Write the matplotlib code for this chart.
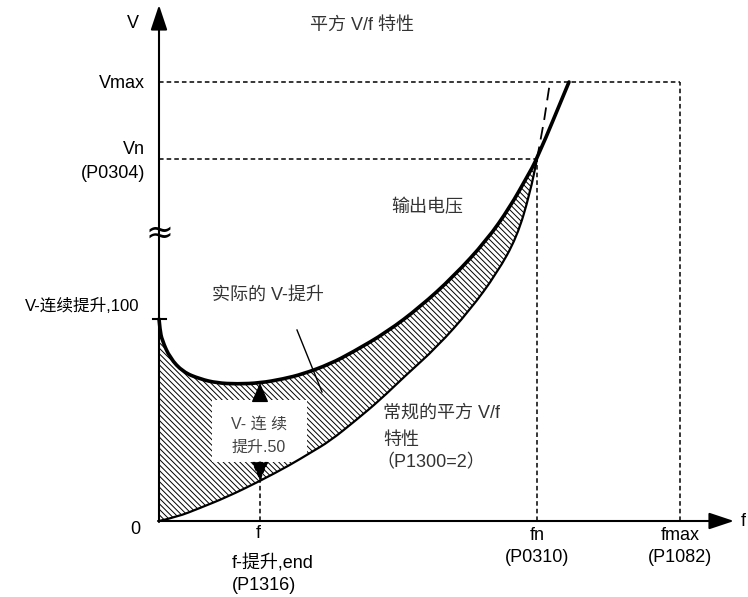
import numpy as np
import matplotlib.pyplot as plt
from matplotlib.patches import PathPatch, Rectangle
from matplotlib.path import Path

plt.rcParams['font.family'] = ['Liberation Sans', 'Noto Sans CJK SC', 'DejaVu Sans']
plt.rcParams['hatch.linewidth'] = 0.7

# ---------------- data (arbitrary units) ----------------
f_boost_end = 101
f_n = 378
f_max = 521
V_boost100 = 202
V_n = 362
V_max = 439

# normal square-law V/f characteristic (P1300=2)
f_sq = [0, 18, 41, 68, 101, 131, 151, 171, 196, 221, 246, 278, 311, 338, 358, 371, 378]
V_sq = [0, 4, 13, 24, 40, 56, 68, 80, 100, 121, 145, 174, 211, 248, 284, 328, 362]
# extension of the square-law curve above Vn (dashed)
f_sq_ext = [378, 385, 391]
V_sq_ext = [362, 400, 439]

# actual output voltage with continuous boost
f_out = [0, 1, 3, 11, 24, 41, 58, 78, 101, 124, 144, 171, 194, 228, 261, 294, 328, 351, 368, 378, 410]
V_out = [202, 191, 181, 163, 149, 142, 138, 137, 138, 142, 147, 157, 169, 189, 214, 244, 281, 314, 344, 362, 439]


def smooth_path(xs, ys):
    """quadratic bezier path through the midpoints of the read points"""
    pts = np.column_stack([xs, ys]).astype(float)
    verts = [pts[0]]
    codes = [Path.MOVETO]
    for i in range(1, len(pts) - 1):
        verts += [pts[i], (pts[i] + pts[i + 1]) / 2]
        codes += [Path.CURVE3, Path.CURVE3]
    verts.append(pts[-1])
    codes.append(Path.LINETO)
    return Path(verts, codes)


# ---------------------- figure --------------------------
fig = plt.figure(figsize=(7.48, 5.97), dpi=100)
ax = fig.add_axes([0, 0, 1, 1])
ax.set_xlim(-159, 589)
ax.set_ylim(-76, 521)
ax.axis('off')

# hatched boost area between the two curves
n_out = f_out.index(f_n) + 1
up = smooth_path(f_out[:n_out], V_out[:n_out])
lo = smooth_path(f_sq[::-1], V_sq[::-1])
area = Path(np.concatenate([up.vertices, lo.vertices, [up.vertices[0]]]),
            np.concatenate([up.codes, [Path.LINETO], lo.codes[1:], [Path.CLOSEPOLY]]))
ax.add_patch(PathPatch(area, facecolor='white', edgecolor='black', hatch='\\\\\\\\\\\\',
                       lw=0, zorder=1))

# reference dashed lines
dash = dict(color='black', lw=1.1, ls=(0, (3, 2)), zorder=2)
ax.plot([0, f_max], [V_max, V_max], **dash)
ax.plot([f_max, f_max], [0, V_max], **dash)
ax.plot([0, f_n], [V_n, V_n], **dash)
ax.plot([f_n, f_n], [0, V_n], **dash)
ax.plot([f_boost_end, f_boost_end], [0, V_sq[4]], **dash)

# curves
ax.add_patch(PathPatch(smooth_path(f_sq, V_sq), fill=False, color='black', lw=1.6, zorder=4))
ax.plot(f_sq_ext, V_sq_ext, color='black', lw=1.3, ls=(0, (7, 4)), zorder=4)
ax.add_patch(PathPatch(smooth_path(f_out, V_out), fill=False, color='black', lw=2.6,
                       zorder=5, capstyle='round', joinstyle='round'))

# axes with arrow heads
arr = dict(arrowstyle='-|>,head_length=0.9,head_width=0.3', color='black', lw=1.5,
           shrinkA=0, shrinkB=0, mutation_scale=17)
ax.annotate('', xy=(0, 516), xytext=(0, -1), arrowprops=arr, zorder=6)
ax.annotate('', xy=(575, 0), xytext=(-1, 0), arrowprops=arr, zorder=6)

# tick at V-boost 100 and axis break
ax.plot([-6, 7], [V_boost100, V_boost100], color='black', lw=1.5, zorder=6)
ax.text(0, 288, '≈', fontsize=24, ha='center', va='center', family='DejaVu Sans', zorder=7)

# boost box and arrows
ax.add_patch(Rectangle((53, 59), 95, 62, facecolor='white', edgecolor='none', zorder=3))
sarr = dict(arrowstyle='-|>,head_length=0.8,head_width=0.35', color='black', lw=1.0,
            shrinkA=0, shrinkB=0, mutation_scale=15)
ax.annotate('', xy=(f_boost_end, V_out[8]), xytext=(f_boost_end, 121), arrowprops=sarr, zorder=6)
ax.annotate('', xy=(f_boost_end, V_sq[4]), xytext=(f_boost_end, 59),
            arrowprops=dict(sarr, linestyle=(0, (3, 2))), zorder=6)
ax.text(100, 97, 'V- 连 续', fontsize=11.5, ha='center', va='center', color='#444', zorder=7)
ax.text(100, 74, '提升.50', fontsize=11.5, ha='center', va='center', color='#444', zorder=7)

# leader line for actual boost
ax.plot([138, 163], [191, 129], color='black', lw=1.0, zorder=6)

# ---------------------- labels --------------------------
fs = 13
ax.text(-26, 498, 'V', fontsize=fs, ha='center', va='center')
ax.text(584, 0, 'f', fontsize=fs, ha='center', va='center')
ax.text(203, 496, '平方 V/f 特性', fontsize=fs, ha='center', va='center', color='#333')
ax.text(-14, 438, 'Vmax', fontsize=fs, ha='right', va='center')
ax.text(-14, 371, 'Vn', fontsize=fs, ha='right', va='center')
ax.text(-14, 348, '(P0304)', fontsize=fs, ha='right', va='center')
ax.text(-20, 215, 'V-连续提升,100', fontsize=12, ha='right', va='center')
ax.text(-24, -9, '0', fontsize=fs, ha='center', va='center')
ax.text(109, 226, '实际的 V-提升', fontsize=fs, ha='center', va='center', color='#333')
ax.text(268, 313, '输出电压', fontsize=fs, ha='center', va='center', color='#333')
ax.text(224, 108, '常规的平方 V/f', fontsize=fs, ha='left', va='center', color='#333')
ax.text(224, 81, '特性', fontsize=fs, ha='left', va='center', color='#333')
ax.text(217, 58, '（P1300=2）', fontsize=fs, ha='left', va='center', color='#333')

ax.text(f_boost_end - 2, -13, 'f', fontsize=fs, ha='center', va='center')
ax.text(73, -42, 'f-提升,end', fontsize=fs, ha='left', va='center')
ax.text(73, -64, '(P1316)', fontsize=fs, ha='left', va='center')
ax.text(f_n, -14, 'fn', fontsize=fs, ha='center', va='center')
ax.text(f_n, -36, '(P0310)', fontsize=fs, ha='center', va='center')
ax.text(f_max, -14, 'fmax', fontsize=fs, ha='center', va='center')
ax.text(f_max, -36, '(P1082)', fontsize=fs, ha='center', va='center')

fig.savefig('out.png', dpi=100)
